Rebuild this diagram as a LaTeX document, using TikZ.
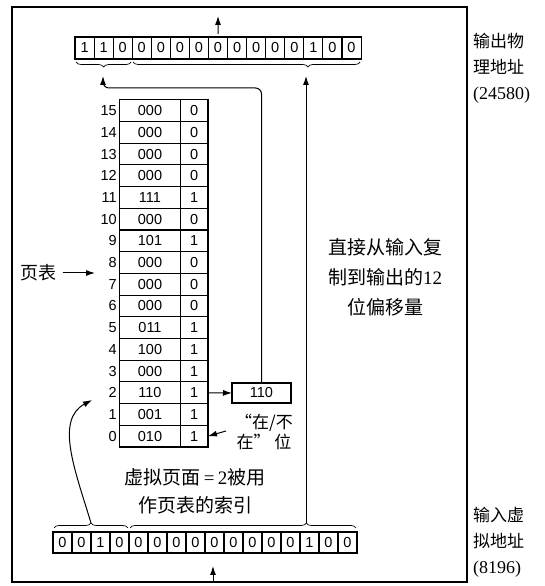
\documentclass[tikz,border=0pt]{standalone}
\usepackage{fontspec}
\setmainfont{Liberation Serif}
\setsansfont{Liberation Sans}
\newfontfamily\cjk{Noto Sans CJK SC}
\usetikzlibrary{arrows.meta,decorations.pathreplacing,calc}

\begin{document}
\begin{tikzpicture}[
    x=1pt, y=1pt,
    bitcell/.style={draw, line width=1.1pt, inner sep=0pt, outer sep=0pt,
                minimum width=19pt, minimum height=21pt,
                font=\sffamily\fontsize{14.5}{14.5}\selectfont},
    ptcell/.style={bitcell, minimum height=21.7pt},
    idx/.style={anchor=east, inner sep=0pt, font=\sffamily\fontsize{14.5}{14.5}\selectfont},
    cjktext/.style={align=center, inner sep=0pt, font=\cjk\fontsize{19}{30}\selectfont},
    sidetext/.style={align=left, anchor=west, inner sep=0pt, font=\cjk\fontsize{17}{26}\selectfont},
    arrow/.style={-{Latex[length=9pt,width=6pt]}, line width=1pt},
    regbrace/.style={decorate, decoration={brace, amplitude=5pt}, line width=0.7pt},
]
\useasboundingbox (0,0) rectangle (545,586);

% --- outer frame ---
\draw[line width=1.2pt] (12,4) rectangle (467,579);

% --- output register (physical address) ---
\foreach \b [count=\i from 0] in {1,1,0,0,0,0,0,0,0,0,0,0,1,0,0} {
  \node[bitcell, minimum width=19.07pt, minimum height=22pt] (o\i) at ({75+19.07*(\i+0.5)}, 538) {\b};
}

% --- input register (virtual address) ---
\foreach \b [count=\i from 0] in {0,0,1,0,0,0,0,0,0,0,0,0,0,1,0,0} {
  \node[bitcell] (v\i) at ({53+19*(\i+0.5)}, 43.5) {\b};
}

% --- page table ---
\foreach \r/\pfn/\bit in {0/010/1, 1/001/1, 2/110/1, 3/000/1, 4/100/1, 5/011/1,
    6/000/0, 7/000/0, 8/000/0, 9/101/1, 10/000/0, 11/111/1,
    12/000/0, 13/000/0, 14/000/0, 15/000/0} {
  \node[ptcell, minimum width=61pt] (pf\r) at (150, {139+(\r+0.5)*21.7}) {\pfn};
  \node[ptcell, minimum width=27.5pt] (pb\r) at (194.25, {139+(\r+0.5)*21.7}) {\bit};
  \node[idx] (ix\r) at (117, {139+(\r+0.5)*21.7}) {\r};
}

% --- frame number taken from the table ---
\node[bitcell, minimum width=59pt, minimum height=20pt] (pfn) at (261.5,193) {110};

% --- braces ---
\draw[regbrace, decoration={aspect=0.5}] ([xshift=-1pt,yshift=-3pt]o2.south east) -- ([xshift=1pt,yshift=-3pt]o0.south west);
\draw[regbrace, decoration={aspect=0.23}] ([xshift=-1pt,yshift=-3pt]o14.south east) -- ([xshift=1pt,yshift=-3pt]o3.south west);
\draw[regbrace, decoration={aspect=0.5}] ([xshift=1pt,yshift=4pt]v0.north west) -- ([xshift=-1pt,yshift=4pt]v3.north east);
\draw[regbrace, decoration={aspect=0.78}] ([xshift=1pt,yshift=4pt]v4.north west) -- ([xshift=-1pt,yshift=4pt]v15.north east);

% --- free ends ---
\coordinate (outTip) at (218,570);
\coordinate (inTail) at (213,4);
\coordinate (inTip) at (213,20);
\coordinate (bendPfn) at (103,498);
\coordinate (outPfn) at (103,510);
\coordinate (offTail) at (306,63);
\coordinate (offTip) at (306,510);
\coordinate (vpnTail) at (91,63);
\coordinate (idxTip) at (92,186);
\coordinate (presTail) at (226,155);
\coordinate (ptTip) at (95,313);

% --- labels ---
\node[cjktext, font=\cjk\fontsize{18}{18}\selectfont] (ptLbl) at (38.5,313) {页表};
\node[cjktext] (offLbl) at (385,309) {直接从输入复\\制到输出的{\rmfamily 12}\\位偏移量};
\node[cjktext, font=\cjk\fontsize{19}{28}\selectfont] (vpnLbl) at (195,95) {虚拟页面{\rmfamily\,=\,2}被用\\作页表的索引};
\node[cjktext, font=\cjk\fontsize{17}{20}\selectfont] (presLbl) at (264,154) {“在/不\\在”\ 位};
\node[sidetext] (outLbl) at (473,518) {输出物\\理地址\\{\rmfamily\fontsize{18}{26}\selectfont (24580)}};
\node[sidetext] (inLbl) at (473,44) {输入虚\\拟地址\\{\rmfamily\fontsize{18}{26}\selectfont (8196)}};

% --- arrows ---
\draw[arrow] ([yshift=3pt]o7.north) -- (outTip);
\draw[arrow] (inTail) -- (inTip);
\draw[arrow] (pb2.east) -- (pfn.west);
\draw[arrow, rounded corners=6pt] (pfn.north) |- (bendPfn) -- (outPfn);
\draw[arrow] (offTail) -- (offTip);
\draw[arrow] (vpnTail) .. controls (75,116) and (55,166) .. (idxTip);
\draw[arrow] (presTail) -- (pb0.east);
\draw[arrow] ([xshift=6pt]ptLbl.east) -- (ptTip);

\end{tikzpicture}
\end{document}
